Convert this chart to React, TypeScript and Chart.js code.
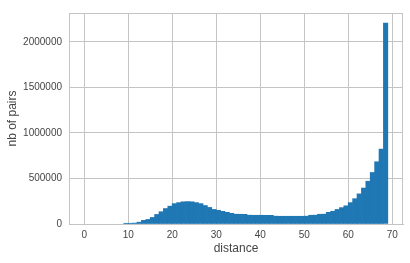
import React, { useEffect, useRef } from "react";
import { Chart, registerables } from "chart.js";

Chart.register(...registerables);

// Histogram bins: bin i covers [i, i+1)
const binStarts: number[] = Array.from({ length: 69 }, (_, i) => i);
const counts: number[] = [
  0, 0, 0, 0, 0, 0, 0, 0, 0, 8000,
  8000, 10000, 20000, 40000, 50000, 72000, 105000, 135000, 170000, 196000,
  224000, 235000, 244000, 246000, 244000, 235000, 224000, 203000, 182000, 160000,
  150000, 139000, 128000, 118000, 108000, 107000, 106000, 97000, 96000, 96000,
  96000, 95000, 95000, 86000, 85000, 85000, 85000, 85000, 85000, 85000,
  86000, 96000, 97000, 107000, 108000, 128000, 140000, 160000, 180000, 200000,
  235000, 278000, 331000, 395000, 470000, 566000, 684000, 823000, 2208000,
];
const xTicks: number[] = [0, 10, 20, 30, 40, 50, 60, 70];
const yTicks: number[] = [0, 500000, 1000000, 1500000, 2000000];
const xLabel = "distance";
const yLabel = "nb of pairs";

const FONT = "'Liberation Sans', Arial, sans-serif";
const GRID = "#c4c4c4";
const TEXT = "#454545";

const frame = {
  id: "frame",
  afterDraw(chart: any) {
    const { ctx, chartArea } = chart;
    ctx.save();
    ctx.strokeStyle = GRID;
    ctx.lineWidth = 1;
    ctx.strokeRect(
      Math.round(chartArea.left) + 0.5,
      Math.round(chartArea.top) + 0.5,
      Math.round(chartArea.right - chartArea.left) - 1,
      Math.round(chartArea.bottom - chartArea.top)
    );
    ctx.restore();
  },
};

export default function App() {
  const ref = useRef<HTMLCanvasElement | null>(null);
  useEffect(() => {
    if (!ref.current) return;
    const xMin = 0;
    const xMax = binStarts[binStarts.length - 1] + 1;
    const xPad = (xMax - xMin) * 0.05;
    const yMax = Math.max(...counts) * 1.05;
    const points = binStarts
      .map((b, i) => ({ x: b + 0.5, y: counts[i] }))
      .filter((p) => p.y > 0);
    const chart = new Chart(ref.current, {
      type: "bar",
      data: {
        datasets: [
          {
            data: points,
            backgroundColor: "#1f77b4",
            borderWidth: 0,
            barPercentage: 1,
            categoryPercentage: 1,
          },
        ],
      },
      options: {
        animation: false,
        responsive: false,
        devicePixelRatio: 1,
        layout: { padding: { top: 6, right: 7, left: 0, bottom: 0 } },
        plugins: { legend: { display: false }, tooltip: { enabled: false } },
        scales: {
          x: {
            type: "linear",
            offset: false,
            min: xMin - xPad,
            max: xMax + xPad,
            afterBuildTicks: (s: any) => {
              s.ticks = xTicks.map((v) => ({ value: v }));
            },
            afterFit: (s: any) => {
              s.height = 39;
            },
            grid: { color: GRID, drawTicks: false, lineWidth: 1, offset: false },
            border: { color: GRID },
            ticks: {
              padding: 5,
              color: TEXT,
              font: { family: FONT, size: 10 },
              callback: (v: any) => String(v),
            },
            title: {
              display: true,
              text: xLabel,
              color: TEXT,
              font: { family: FONT, size: 12 },
              padding: { top: 0, bottom: 7 },
            },
          },
          y: {
            type: "linear",
            min: 0,
            max: yMax,
            afterBuildTicks: (s: any) => {
              s.ticks = yTicks.map((v) => ({ value: v }));
            },
            afterFit: (s: any) => {
              s.width = 69;
            },
            grid: { color: GRID, drawTicks: false, lineWidth: 1, offset: false },
            border: { color: GRID },
            ticks: {
              padding: 7,
              color: TEXT,
              font: { family: FONT, size: 10 },
              callback: (v: any) => String(v),
            },
            title: {
              display: true,
              text: yLabel,
              color: TEXT,
              font: { family: FONT, size: 12 },
              padding: { top: 5, bottom: 0 },
            },
          },
        },
      },
      plugins: [frame],
    });
    return () => chart.destroy();
  }, []);
  return (
    <div style={{ position: "absolute", left: 0, top: 0, width: 410, height: 263, background: "#fff" }}>
      <canvas ref={ref} width={410} height={263} />
    </div>
  );
}
